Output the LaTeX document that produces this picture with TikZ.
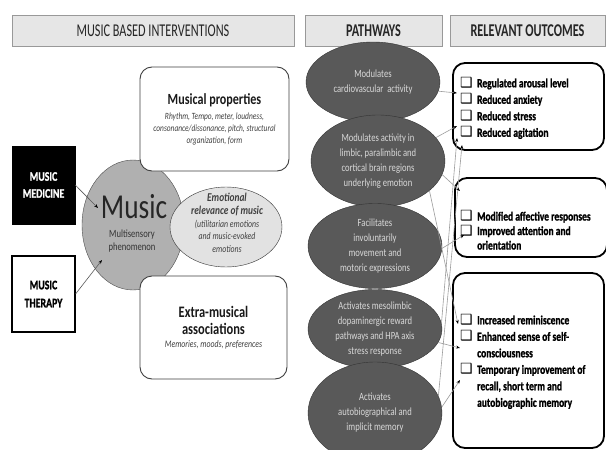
\documentclass[tikz,border=0pt]{standalone}
\usepackage{fontspec}
\setmainfont[FakeStretch=0.78]{Carlito}
\newfontfamily\headfont[FakeStretch=0.68]{Carlito}
\newfontfamily\heavyfont[FakeStretch=0.76,BoldFeatures={FakeBold=1.2}]{Carlito}
\newfontfamily\boxsym{DejaVu Sans}
\usepackage{tikz}
\usetikzlibrary{positioning,shapes.geometric,arrows.meta}

\definecolor{headgray}{HTML}{E6E6E6}
\definecolor{pathgray}{HTML}{595959}
\definecolor{musicgray}{HTML}{B0B0B0}
\definecolor{emogray}{HTML}{E2E2E2}
\definecolor{linkgray}{HTML}{9C9C9C}

\newcommand{\chkbox}{\makebox[17pt][l]{\boxsym\mdseries\fontsize{14}{14}\selectfont ❑}}

\tikzset{
  header/.style={draw=gray!80, fill=headgray, minimum height=31pt, inner sep=0pt, text=black!85, font=\headfont\fontsize{18}{18}\selectfont},
  pathway/.style={ellipse, draw=black!80, fill=pathgray, text=black!15, minimum width=134pt, inner sep=0pt, align=center, font=\fontsize{11}{15}\selectfont},
  infobox/.style={draw=black!75, line width=0.9pt, rounded corners=12pt, fill=white, inner sep=0pt},
  outbox/.style={draw=black, line width=1.8pt, rounded corners=12pt, fill=white, inner sep=0pt},
  outtext/.style={anchor=west, align=left, inner sep=0pt, font=\heavyfont\bfseries\fontsize{12.5}{16.5}\selectfont},
  link/.style={draw=linkgray, line width=0.6pt, -{Stealth[length=4pt,width=3pt,color=black]}},
  mlink/.style={draw=black!65, line width=0.6pt, -{Stealth[length=4pt,width=3pt,color=black]}},
}

\begin{document}
\begin{tikzpicture}[x=1pt,y=-1pt]
      \path[use as bounding box, fill=white] (0,0) rectangle (606,450);
      \node[header, minimum width=282pt] (hdint) at (153,30.5) {MUSIC BASED INTERVENTIONS};
      \node[header, minimum width=137pt, font=\headfont\bfseries\fontsize{18}{18}\selectfont] (hdpath) at (373.5,30.5) {PATHWAYS};
      \node[header, minimum width=155pt, font=\headfont\bfseries\fontsize{18}{18}\selectfont] (hdout) at (527.5,30.5) {RELEVANT OUTCOMES};

      \node[draw, fill=black, text=white, minimum width=63pt, minimum height=78pt, align=center, font=\heavyfont\bfseries\fontsize{13}{17}\selectfont] (med) at (43.5,185) {MUSIC\\MEDICINE};
      \node[draw, line width=1.1pt, fill=white, minimum width=63pt, minimum height=76pt, align=center, font=\heavyfont\bfseries\fontsize{13}{18}\selectfont] (ther) at (43.5,294) {MUSIC\\THERAPY};

      \node[ellipse, draw=black!70, fill=musicgray, minimum width=102pt, minimum height=130pt] (music) at (133,225) {};
      \node[text=black!85, inner sep=0pt, font=\fontsize{35}{35}\selectfont] (musiclbl) at (134,207) {Music};
      \node[text=black!80, align=center, inner sep=0pt, font=\fontsize{11}{13}\selectfont] (musicsub) at (132,241.5) {Multisensory\\phenomenon};

      \node[infobox, minimum width=149pt, minimum height=104pt, align=center, text=black!75, font=\itshape\fontsize{9.5}{12}\selectfont] (props) at (214.5,119) {{\upshape\bfseries\color{black!90}\fontsize{15.5}{17}\selectfont Musical properties}\\[3pt]Rhythm, Tempo, meter, loudness,\\consonance/dissonance, pitch, structural\\organization, form};
      \node[ellipse, draw=black!80, fill=emogray, minimum width=112pt, minimum height=80pt] (emo) at (226,227) {};
      \node[align=center, inner sep=0pt, text=black!75, font=\itshape\fontsize{10}{12.5}\selectfont] (emotxt) at (227,222.5) {{\bfseries\fontsize{12}{14}\selectfont Emotional}\\[1pt]{\bfseries\fontsize{12}{14}\selectfont relevance of music}\\(utilitarian emotions\\and music-evoked\\emotions};
      \node[infobox, minimum width=147pt, minimum height=103pt, align=center, text=black!75, font=\itshape\fontsize{10}{12}\selectfont] (extra) at (213.5,327.5) {{\upshape\bfseries\color{black!90}\fontsize{16}{21}\selectfont Extra-musical}\\[5pt]{\upshape\bfseries\color{black!90}\fontsize{16}{21}\selectfont associations}\\[1pt]Memories, moods, preferences};

      \coordinate (mm) at (98,208);
      \coordinate (mt) at (102,260);
      \draw[mlink] (med.east) -- (mm);
      \draw[mlink] (ther.east) -- (mt);

      \node[pathway, minimum height=80pt] (e1) at (373,82) {Modulates\\cardiovascular\ \ activity};
      \node[pathway, minimum height=92pt] (e2) at (378,161) {Modulates activity in\\limbic, paralimbic and\\cortical brain regions\\underlying emotion};
      \node[pathway, minimum height=85pt] (e3) at (375,246) {Facilitates\\involuntarily\\movement and\\motoric expressions};
      \node[pathway, minimum height=79pt] (e4) at (375,329) {Activates mesolimbic\\dopaminergic reward\\pathways and HPA axis\\stress response};
      \node[pathway, minimum height=102pt] (e5) at (375,413) {Activates\\autobiographical and\\implicit memory};

      \node[outbox, minimum width=151pt, minimum height=87pt] (o1) at (528.5,106.5) {};
      \node[outbox, minimum width=152pt, minimum height=79pt] (o2) at (531,217.5) {};
      \node[outbox, minimum width=151pt, minimum height=175pt] (o3) at (528.5,360.5) {};
      \node[outtext] (o1txt) at (460,108) {\chkbox Regulated arousal level\\\chkbox Reduced anxiety\\\chkbox Reduced stress\\\chkbox Reduced agitation};
      \node[outtext, font=\heavyfont\bfseries\fontsize{12.5}{14.5}\selectfont] (o2txt) at (460,230) {\chkbox Modified affective responses\\\chkbox Improved attention and\\\hspace*{17pt}orientation};
      \node[outtext] (o3txt) at (460,361.5) {\chkbox Increased reminiscence\\\chkbox Enhanced sense of self-\\\hspace*{17pt}consciousness\\\chkbox Temporary improvement of\\\hspace*{17pt}recall, short term and\\\hspace*{17pt}autobiographic memory};

      \coordinate (t1) at (457,93);
      \coordinate (t2) at (457,126);
      \coordinate (t3) at (457,138);
      \coordinate (t4) at (462,145);
      \coordinate (t5) at (460,191);
      \coordinate (t6) at (464,235);
      \coordinate (t7) at (458,324);
      \coordinate (t8) at (460,348);
      \coordinate (t9) at (460,380);
      \draw[link] (e1.-8) -- (t1);
      \draw[link] (e2.22) -- (t2);
      \draw[link] (e4.5) -- (t3);
      \draw[link] (e5.15) -- (t4);
      \draw[link] (e2.-12) -- (t5);
      \draw[link] (e3.-2) -- (t6);
      \draw[link] (e2.-30) -- (t7);
      \draw[link] (e4.-12) -- (t8);
      \draw[link] (e5.5) -- (t9);
\end{tikzpicture}
\end{document}
